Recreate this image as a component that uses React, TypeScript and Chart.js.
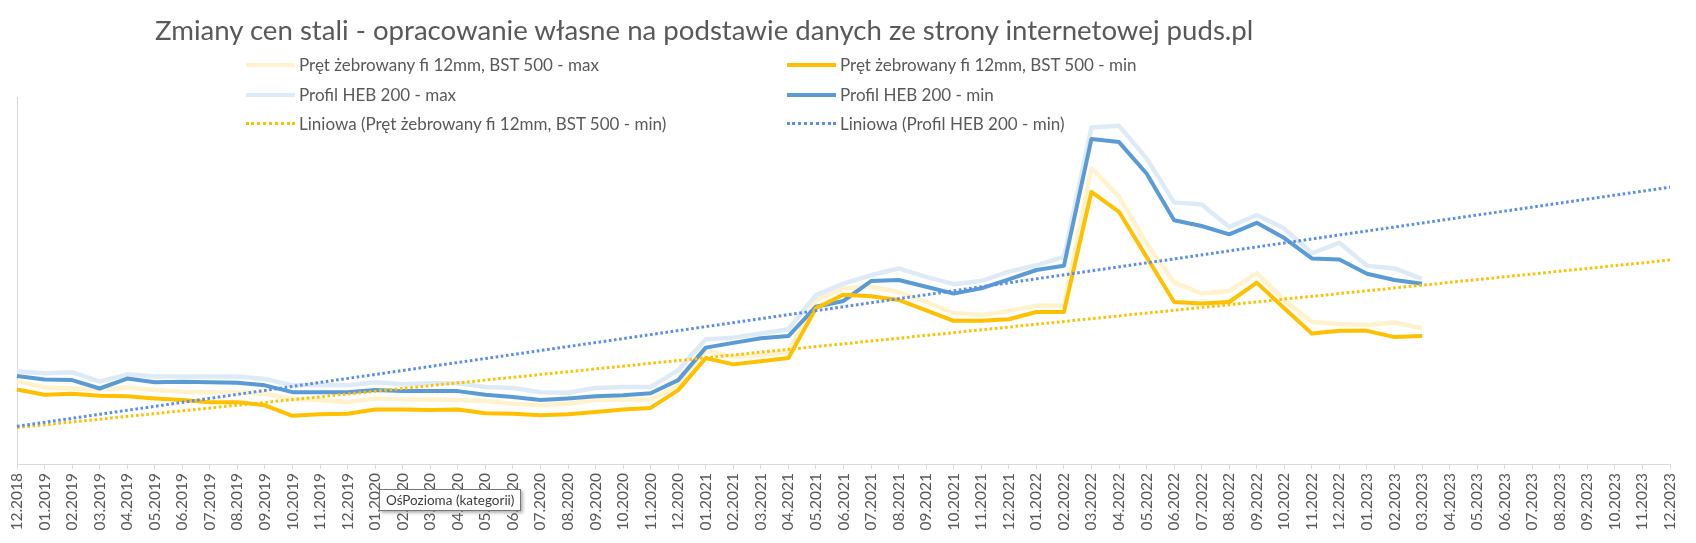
import React, { useEffect, useRef } from 'react';
import { Chart, registerables } from 'chart.js';

Chart.register(...registerables);

const FONT = 'Lato, "Open Sans", sans-serif';
const TEXT = '#595959';

const chartTitle = 'Zmiany cen stali - opracowanie własne na podstawie danych ze strony internetowej puds.pl';

const months = [
  '12.2018',
  '01.2019', '02.2019', '03.2019', '04.2019', '05.2019', '06.2019', '07.2019', '08.2019', '09.2019', '10.2019', '11.2019', '12.2019',
  '01.2020', '02.2020', '03.2020', '04.2020', '05.2020', '06.2020', '07.2020', '08.2020', '09.2020', '10.2020', '11.2020', '12.2020',
  '01.2021', '02.2021', '03.2021', '04.2021', '05.2021', '06.2021', '07.2021', '08.2021', '09.2021', '10.2021', '11.2021', '12.2021',
  '01.2022', '02.2022', '03.2022', '04.2022', '05.2022', '06.2022', '07.2022', '08.2022', '09.2022', '10.2022', '11.2022', '12.2022',
  '01.2023', '02.2023', '03.2023', '04.2023', '05.2023', '06.2023', '07.2023', '08.2023', '09.2023', '10.2023', '11.2023', '12.2023',
];

const rebarMaxName = 'Pręt żebrowany fi 12mm, BST 500 - max';
const rebarMinName = 'Pręt żebrowany fi 12mm, BST 500 - min';
const hebMaxName = 'Profil HEB 200 - max';
const hebMinName = 'Profil HEB 200 - min';
const rebarTrendName = 'Liniowa (Pręt żebrowany fi 12mm, BST 500 - min)';
const hebTrendName = 'Liniowa (Profil HEB 200 - min)';

const rebarMax = [
  1580, 1460, 1440, 1420, 1460, 1410, 1380, 1370, 1370, 1340, 1240, 1220, 1180,
  1250, 1230, 1230, 1220, 1200, 1150, 1120, 1150, 1220, 1230, 1230, 1500,
  2170, 2040, 2080, 2140, 3130, 3350, 3380, 3280, 3090, 2880, 2840, 2920,
  3020, 3020, 5640, 5100, 4210, 3460, 3250, 3300, 3640, 3130, 2710, 2670,
  2650, 2700, 2590,
];

const rebarMin = [
  1420, 1320, 1340, 1300, 1290, 1250, 1220, 1180, 1180, 1120, 920, 950, 960,
  1040, 1040, 1030, 1040, 970, 960, 930, 950, 990, 1040, 1070, 1410,
  2020, 1900, 1960, 2020, 2970, 3230, 3200, 3130, 2930, 2730, 2730, 2760,
  2900, 2900, 5190, 4810, 3950, 3090, 3060, 3090, 3460, 2970, 2490, 2540,
  2540, 2420, 2440,
];

const hebMax = [
  1770, 1730, 1750, 1570, 1710, 1670, 1670, 1670, 1670, 1620, 1500, 1510, 1500,
  1560, 1520, 1540, 1540, 1470, 1450, 1370, 1360, 1450, 1470, 1470, 1790,
  2380, 2410, 2490, 2570, 3220, 3440, 3600, 3730, 3570, 3430, 3490, 3670,
  3790, 3950, 6420, 6450, 5830, 4990, 4950, 4520, 4750, 4490, 4020, 4220,
  3780, 3730, 3530,
];

const hebMin = [
  1680, 1610, 1600, 1440, 1630, 1560, 1570, 1560, 1550, 1500, 1370, 1370, 1370,
  1410, 1390, 1390, 1390, 1320, 1280, 1220, 1250, 1290, 1310, 1350, 1600,
  2220, 2310, 2400, 2440, 3000, 3110, 3490, 3510, 3380, 3250, 3350, 3520,
  3700, 3780, 6200, 6140, 5540, 4650, 4540, 4380, 4600, 4310, 3920, 3900,
  3630, 3510, 3440,
];

// trend line end values (first and last category)
const rebarTrend = [695, 3890];
const hebTrend = [720, 5280];

const yMin = 0;
const yMax = 7000;

type LegendItem = { name: string; color: string; dotted: boolean; col: number; row: number };

const legendItems: LegendItem[] = [
  { name: rebarMaxName, color: '#FFF2CC', dotted: false, col: 0, row: 0 },
  { name: rebarMinName, color: '#FFC000', dotted: false, col: 1, row: 0 },
  { name: hebMaxName, color: '#DEEBF7', dotted: false, col: 0, row: 1 },
  { name: hebMinName, color: '#5B9BD5', dotted: false, col: 1, row: 1 },
  { name: rebarTrendName, color: '#FFC000', dotted: true, col: 0, row: 2 },
  { name: hebTrendName, color: '#5A8EEB', dotted: true, col: 1, row: 2 },
];

const colX = [246, 787];
const rowY = [65, 94.5, 123.5];

export default function App() {
  const ref = useRef<HTMLCanvasElement>(null);

  useEffect(() => {
    document.body.style.margin = '0';
    document.body.style.background = '#ffffff';
    const canvas = ref.current;
    if (!canvas) return;
    const first = months[0];
    const last = months[months.length - 1];
    const chart = new Chart(canvas, {
      type: 'line',
      data: {
        labels: months,
        datasets: [
          { label: rebarTrendName, data: [{ x: first, y: rebarTrend[0] }, { x: last, y: rebarTrend[1] }] as any, borderColor: '#FFC000', borderWidth: 3, borderDash: [2.6, 2.6], order: 1 },
          { label: hebTrendName, data: [{ x: first, y: hebTrend[0] }, { x: last, y: hebTrend[1] }] as any, borderColor: '#5A8EEB', borderWidth: 3, borderDash: [2.6, 2.6], order: 0 },
          { label: rebarMinName, data: rebarMin, borderColor: '#FFC000', borderWidth: 4, order: 2 },
          { label: hebMinName, data: hebMin, borderColor: '#5B9BD5', borderWidth: 4, order: 3 },
          { label: rebarMaxName, data: rebarMax, borderColor: '#FFF2CC', borderWidth: 4.5, order: 5 },
          { label: hebMaxName, data: hebMax, borderColor: '#DEEBF7', borderWidth: 4.5, order: 4 },
        ],
      },
      options: {
        animation: false,
        responsive: true,
        maintainAspectRatio: false,
        layout: { padding: { top: 97, left: 17, right: 26, bottom: 0 } },
        elements: {
          point: { radius: 0, hoverRadius: 0 },
          line: { tension: 0, borderJoinStyle: 'round', fill: false },
        },
        plugins: {
          legend: { display: false },
          title: { display: false },
          tooltip: { enabled: false },
        },
        events: [],
        scales: {
          x: {
            type: 'category',
            offset: false,
            grid: { display: true, drawOnChartArea: false, drawTicks: true, tickLength: 5, color: '#d9d9d9' },
            border: { display: true, color: '#d9d9d9', width: 1 },
            ticks: {
              autoSkip: false,
              maxRotation: 90,
              minRotation: 90,
              padding: 4,
              color: TEXT,
              font: { family: FONT, size: 15.5 },
            },
            afterFit: (s: any) => { s.height = 79; },
          },
          y: {
            min: yMin,
            max: yMax,
            ticks: { display: false },
            grid: { display: false, drawTicks: false },
            border: { display: true, color: '#d9d9d9', width: 1 },
            afterFit: (s: any) => { s.width = 0; },
          },
        },
      },
    });
    return () => chart.destroy();
  }, []);

  return (
    <div style={{ position: 'relative', width: 1696, height: 543, background: '#fff', overflow: 'hidden', fontFamily: FONT }}>
      <canvas ref={ref} style={{ position: 'absolute', left: 0, top: 0, width: 1696, height: 543 }} />
      <div style={{ position: 'absolute', left: 155, top: 0, height: 59, lineHeight: '59px', fontSize: 27.6, color: TEXT, whiteSpace: 'nowrap' }}>
        {chartTitle}
      </div>
      {legendItems.map((it) => (
        <div key={it.name} style={{ position: 'absolute', left: colX[it.col], top: rowY[it.row] - 12, height: 24, display: 'flex', alignItems: 'center', whiteSpace: 'nowrap' }}>
          {it.dotted ? (
            <div style={{ width: 49, height: 0, borderTop: `3px dotted ${it.color}` }} />
          ) : (
            <div style={{ width: 49, height: 4, background: it.color }} />
          )}
          <span style={{ marginLeft: 4, fontSize: 17, color: TEXT, lineHeight: '24px' }}>{it.name}</span>
        </div>
      ))}
      <div style={{ position: 'absolute', left: 379, top: 489, padding: '2px 6px', border: '1px solid #767676', background: '#fff', fontSize: 13.5, color: '#3c3c3c', whiteSpace: 'nowrap', boxShadow: '2px 2px 3px rgba(0,0,0,0.3)' }}>
        OśPozioma (kategorii)
      </div>
    </div>
  );
}
